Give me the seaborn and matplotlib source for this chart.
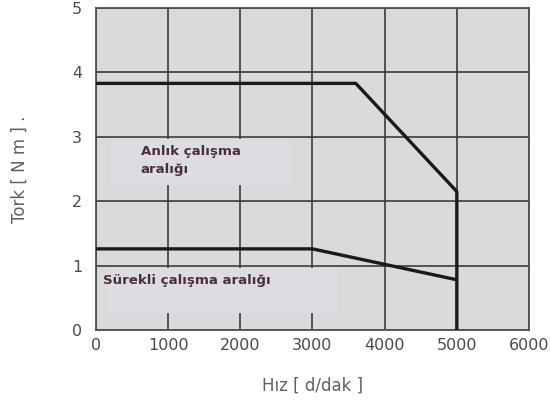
import matplotlib
matplotlib.use("Agg")
import matplotlib.pyplot as plt
import seaborn as sns
import pandas as pd
from matplotlib.patches import Rectangle

# Data
instant_speed = [0, 3600, 5000, 5000]
instant_torque = [3.83, 3.83, 2.15, 0.0]
cont_speed = [0, 3000, 5000]
cont_torque = [1.26, 1.26, 0.78]
x_ticks = [0, 1000, 2000, 3000, 4000, 5000, 6000]
y_ticks = [0, 1, 2, 3, 4, 5]
label_instant = "Anlık çalışma\naralığı"
label_cont = "Sürekli çalışma aralığı"
xlabel = "Hız [ d/dak ]"
ylabel = "Tork [ N m ] ."

sns.set_theme(style="white")
plt.rcParams['font.family'] = ['DejaVu Sans']

fig = plt.figure(figsize=(5.5, 4.16), dpi=100)
ax = fig.add_axes([0.1745, 0.2067, 0.7873, 0.774])
ax.set_facecolor("#dadada")

df_i = pd.DataFrame({"speed": instant_speed, "torque": instant_torque})
df_c = pd.DataFrame({"speed": cont_speed, "torque": cont_torque})

sns.lineplot(data=df_i, x="speed", y="torque", sort=False, estimator=None,
             color="#1a1a1a", linewidth=2.4, ax=ax, zorder=3)
sns.lineplot(data=df_c, x="speed", y="torque", sort=False, estimator=None,
             color="#1a1a1a", linewidth=2.4, ax=ax, zorder=3)

ax.set_xlim(0, 6000)
ax.set_ylim(0, 5)
ax.set_xticks(x_ticks)
ax.set_yticks(y_ticks)
ax.set_axisbelow(True)
ax.grid(True, color="#3c3c3c", linewidth=1.2)

# Text backgrounds covering grid lines
ax.add_patch(Rectangle((150, 0.26), 3200, 0.71, facecolor="#dcdce2",
                       edgecolor="none", zorder=1))
ax.add_patch(Rectangle((200, 2.25), 2500, 0.72, facecolor="#dcdce2",
                       edgecolor="none", zorder=1))

ax.text(620, 2.63, label_instant, fontsize=9.6, fontweight="bold",
        color="#4a2f40", ha="left", va="center", linespacing=1.45, zorder=4)
ax.text(100, 0.77, label_cont, fontsize=9.6, fontweight="bold",
        color="#4a2f40", ha="left", va="center", zorder=4)

for s in ax.spines.values():
    s.set_color("#505050")
    s.set_linewidth(1.3)

ax.tick_params(axis="x", length=0, pad=6, labelsize=11.5, labelcolor="#4a4a4a")
ax.tick_params(axis="y", length=0, pad=10, labelsize=11.5, labelcolor="#4a4a4a")

ax.set_xlabel(xlabel, fontsize=12, color="#606060", labelpad=17)
ax.set_ylabel(ylabel, fontsize=12, color="#606060", labelpad=31)

fig.savefig("out.png", dpi=100)
